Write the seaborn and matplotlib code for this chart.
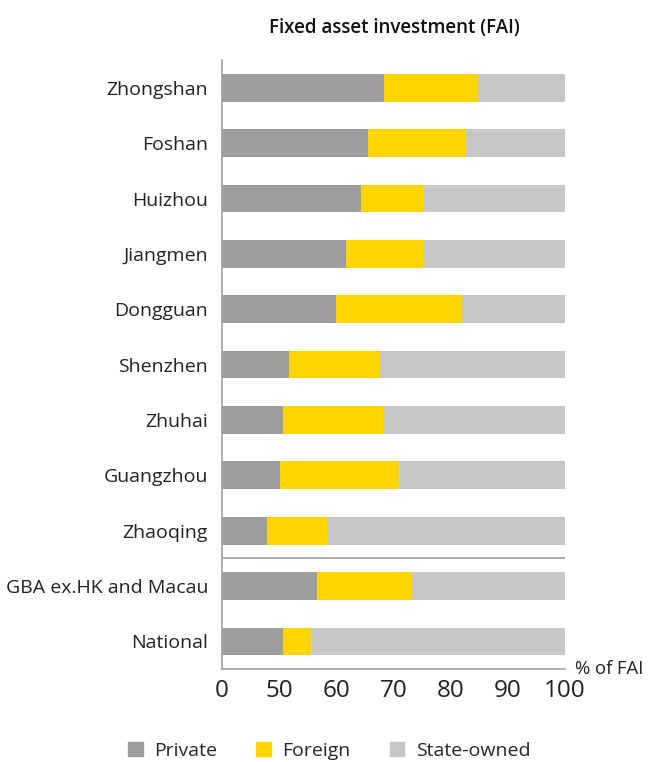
import pandas as pd
import matplotlib.pyplot as plt
import matplotlib.patches as mpatches
from matplotlib.ticker import FixedLocator
import seaborn as sns

# %%
cidades = ['Zhongshan', 'Foshan', 'Huizhou', 'Jiangmen', 'Dongguan', 'Shenzhen',
           'Zhuhai', 'Guangzhou', 'Zhaoqing', 'GBA ex.HK and Macau', 'National']
private = [68.3, 65.6, 64.4, 61.7, 60.0, 51.8, 50.7, 50.2, 47.9, 56.7, 50.7]
foreign = [16.5, 17.0, 11.0, 13.7, 22.0, 15.9, 17.6, 20.8, 10.6, 16.5, 4.9]
x_ticks = [40, 50, 60, 70, 80, 90, 100]
x_tick_labels = ['0', '50', '60', '70', '80', '90', '100']

df = pd.DataFrame({'cidade': cidades, 'private': private, 'foreign': foreign})
df['private_foreign'] = df['private'] + df['foreign']
df['total'] = 100.0
# %%

sns.set_style('white')
plt.rcParams['font.family'] = ['Open Sans', 'DejaVu Sans']

cor_private = '#9d9d9c'
cor_foreign = '#ffd500'
cor_state = '#c6c6c6'
cor_eixo = '#a0a0a0'

fig = plt.figure(figsize=(6.48, 7.62), dpi=100)
ax = fig.add_axes([0.3426, 0.122, 0.5293, 0.799])

# barras empilhadas: desenha do total para o menor
for col, cor in [('total', cor_state), ('private_foreign', cor_foreign), ('private', cor_private)]:
    sns.barplot(x=col, y='cidade', data=df, color=cor, orient='h', width=0.5,
                saturation=1, linewidth=0, ax=ax)

ax.set_xlim(40, 100)
ax.set_ylim(len(cidades) - 0.5, -0.5)
ax.set_xticks(x_ticks)
ax.set_xticklabels(x_tick_labels)
ax.set_xlabel('')
ax.set_ylabel('')

sns.despine(ax=ax)
for lado in ['left', 'bottom']:
    ax.spines[lado].set_color(cor_eixo)
    ax.spines[lado].set_linewidth(1.2)

ax.tick_params(axis='x', length=4, color=cor_eixo, width=1.2, labelsize=17.5,
               labelcolor='#222222', pad=3)
ax.tick_params(axis='y', which='major', length=0, labelsize=14,
               labelcolor='#222222', pad=10)
ax.yaxis.set_minor_locator(FixedLocator([i - 0.5 for i in range(len(cidades))]))
ax.tick_params(axis='y', which='minor', length=4, color=cor_eixo, width=1.2)

# linha separando cidades dos agregados
ax.axhline(8.5, color=cor_eixo, lw=1.2)

ax.text(1.03, 0, '% of FAI', transform=ax.transAxes, ha='left', va='center',
        fontsize=13.3, color='#222222')

fig.text(394 / 648, 1 - 28 / 762, 'Fixed asset investment (FAI)', ha='center',
         va='center', fontsize=13.5, fontweight='semibold', color='#111111')

handles = [mpatches.Patch(color=cor_private, label='Private'),
           mpatches.Patch(color=cor_foreign, label='Foreign'),
           mpatches.Patch(color=cor_state, label='State-owned')]
fig.legend(handles=handles, loc='center', bbox_to_anchor=(0.508, 0.015), ncol=3,
           frameon=False, fontsize=14, handlelength=0.75, handleheight=0.75,
           handletextpad=0.6, columnspacing=2.0)

plt.savefig('out.png', dpi=100)
